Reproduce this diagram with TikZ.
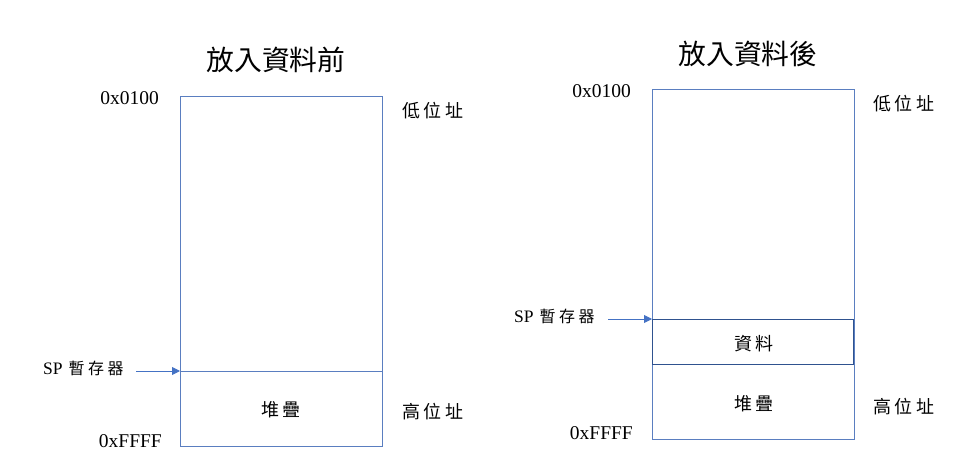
\documentclass[tikz,border=0pt]{standalone}
\usepackage{fontspec}
\setmainfont{Liberation Serif}
\newfontfamily\cjk{Noto Sans CJK TC}
\usetikzlibrary{arrows.meta}
\definecolor{boxblue}{HTML}{5A7EC0}
\definecolor{darkblue}{HTML}{2F528F}
\definecolor{arrowblue}{HTML}{4472C4}
\newcommand{\gp}{\hspace{3.5pt}}
\begin{document}
\begin{tikzpicture}[x=1pt,y=-1pt,
  memline/.style={draw=boxblue,line width=0.9pt},
  databox/.style={draw=darkblue,line width=0.9pt},
  ptr/.style={draw=arrowblue,line width=0.9pt,-{Triangle[length=8pt,width=8pt]}},
  ttl/.style={font=\cjk\fontsize{27.8}{30}\selectfont,inner sep=0pt},
  addr/.style={font=\fontsize{19.5}{22}\selectfont,inner sep=0pt},
  lbl/.style={font=\cjk\fontsize{18}{21}\selectfont,inner sep=0pt},
  splbl/.style={font=\fontsize{17.5}{20}\selectfont,inner sep=0pt}]
\useasboundingbox (0,0) rectangle (961,473);
% ---------- left: before ----------
\node[ttl] (t1) at (276,60) {放入資料前};
\coordinate (L1tl) at (180,96);
\coordinate (L1br) at (382,446);
\draw[memline] (L1tl) rectangle (L1br);
\coordinate (L1a) at (180,371);
\coordinate (L1b) at (382,371);
\draw[memline] (L1a) -- (L1b);
\node[addr,anchor=east] (a1) at (159,98) {0x0100};
\node[addr,anchor=east] (f1) at (162,441) {0xFFFF};
\node[lbl,anchor=west] (low1) at (402,111) {低\gp 位\gp 址};
\node[lbl,anchor=west] (high1) at (402,412) {高\gp 位\gp 址};
\node[lbl] (stk1) at (281,410) {堆\gp 疊};
\node[splbl,anchor=west] (sp1) at (43,368) {SP\hspace{6pt}{\cjk\fontsize{16}{19}\selectfont 暫\gp 存\gp 器}};
\coordinate (sp1s) at (136,371);
\draw[ptr] (sp1s) -- (L1a);
% ---------- right: after ----------
\node[ttl] (t2) at (748,54) {放入資料後};
\coordinate (R1tl) at (652,89);
\coordinate (R1br) at (854,439);
\draw[memline] (R1tl) rectangle (R1br);
\coordinate (Dtl) at (652,319);
\coordinate (Dbr) at (853,364);
\draw[databox] (Dtl) rectangle (Dbr);
\node[addr,anchor=east] (a2) at (631,91) {0x0100};
\node[addr,anchor=east] (f2) at (633,433) {0xFFFF};
\node[lbl,anchor=west] (low2) at (873,104) {低\gp 位\gp 址};
\node[lbl,anchor=west] (high2) at (873,407) {高\gp 位\gp 址};
\node[lbl] (data2) at (754,344) {資\gp 料};
\node[lbl] (stk2) at (754,404) {堆\gp 疊};
\node[splbl,anchor=west] (sp2) at (514,316) {SP\hspace{6pt}{\cjk\fontsize{16}{19}\selectfont 暫\gp 存\gp 器}};
\coordinate (sp2s) at (608,319);
\draw[ptr] (sp2s) -- (Dtl);
\end{tikzpicture}
\end{document}
